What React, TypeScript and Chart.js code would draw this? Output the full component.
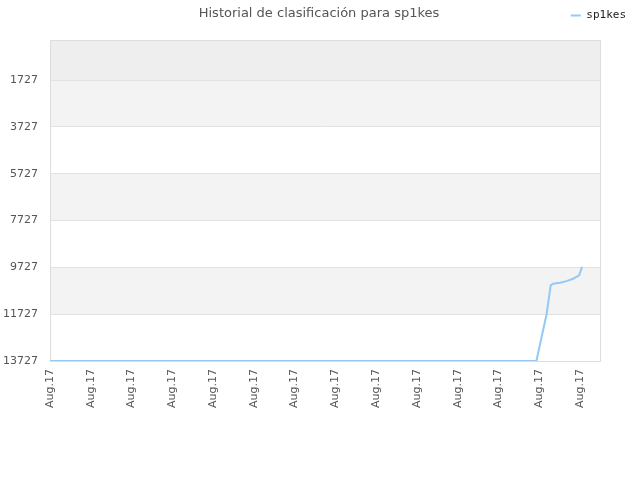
import React, { useEffect, useRef } from "react";
import { Chart, registerables } from "chart.js";

Chart.register(...registerables);

const titleText = "Historial de clasificación para sp1kes";
const seriesName = "sp1kes";
const dayIndex = [0, 119.3, 121.8, 122.8, 123.4, 125.1, 126.7, 128.3, 129.8, 130.5];
const ranks = [13727, 13727, 11727, 10498, 10426, 10383, 10314, 10211, 10070, 9700];
const xTickValues = [0, 10, 20, 30, 40, 50, 60, 70, 80, 90, 100, 110, 120, 130];
const xTickLabels = xTickValues.map(() => "Aug.17");
const yTickValues = [1727, 3727, 5727, 7727, 9727, 11727, 13727];

const lineColor = "rgba(150,200,245,1)";

const bandsPlugin = {
  id: "bands",
  beforeDraw(chart: any) {
    const { ctx, chartArea } = chart;
    const y = chart.scales.y;
    ctx.save();
    const yTop = chartArea.top;
    const yFirst = y.getPixelForValue(yTickValues[0]);
    ctx.fillStyle = "#eeeeee";
    ctx.fillRect(chartArea.left, yTop, chartArea.right - chartArea.left, yFirst - yTop);
    for (let i = 0; i < yTickValues.length - 1; i++) {
      const a = y.getPixelForValue(yTickValues[i]);
      const b = y.getPixelForValue(yTickValues[i + 1]);
      ctx.fillStyle = i % 2 === 0 ? "#f3f3f3" : "#ffffff";
      ctx.fillRect(chartArea.left, a, chartArea.right - chartArea.left, b - a);
    }
    ctx.restore();
  },
};

const titlePlugin = {
  id: "customTitle",
  afterDraw(chart: any) {
    const { ctx } = chart;
    ctx.save();
    ctx.font = "13px 'DejaVu Sans'";
    ctx.fillStyle = "#555555";
    ctx.textAlign = "center";
    ctx.textBaseline = "middle";
    ctx.fillText(titleText, 319, 13.5);
    ctx.restore();
  },
};

export default function App() {
  const ref = useRef<HTMLCanvasElement | null>(null);
  useEffect(() => {
    if (!ref.current) return;
    const chart = new Chart(ref.current, {
      type: "line",
      data: {
        datasets: [
          {
            label: seriesName,
            data: dayIndex.map((d, i) => ({ x: d, y: ranks[i] })),
            borderColor: lineColor,
            backgroundColor: lineColor,
            borderWidth: 2,
            pointRadius: 0,
            tension: 0,
            fill: false,
          },
        ],
      },
      options: {
        responsive: false,
        animation: false,
        layout: { padding: { left: 0, right: 4, top: 0, bottom: 64 } },
        plugins: {
          title: { display: false },
          tooltip: { enabled: false },
          legend: {
            display: true,
            position: "top",
            align: "end",
            labels: {
              usePointStyle: true,
              pointStyle: "line",
              pointStyleWidth: 10,
              boxHeight: 2,
              color: "#222222",
              font: { family: "'DejaVu Sans Mono'", size: 11 },
              padding: 10,
            },
          },
        },
        scales: {
          x: {
            type: "linear",
            min: 0,
            max: 134.9,
            afterBuildTicks: (scale: any) => {
              scale.ticks = xTickValues.map((v) => ({ value: v }));
            },
            ticks: {
              autoSkip: false,
              maxRotation: 90,
              minRotation: 90,
              color: "#555555",
              font: { family: "'DejaVu Sans'", size: 11 },
              padding: 8,
              callback: (_v: any, i: number) => xTickLabels[i],
            },
            grid: { display: false, drawTicks: false },
            border: { display: true, color: "#dddddd" },
          },
          xTop: {
            type: "linear",
            position: "top",
            display: true,
            ticks: { display: false },
            grid: { display: false, drawTicks: false },
            border: { display: true, color: "#dddddd" },
            afterFit: (scale: any) => {
              scale.height = 9;
            },
          },
          y: {
            type: "linear",
            reverse: true,
            min: 13,
            max: 13727,
            afterBuildTicks: (scale: any) => {
              scale.ticks = yTickValues.map((v) => ({ value: v }));
            },
            afterFit: (scale: any) => {
              scale.width = 50;
            },
            ticks: {
              color: "#555555",
              font: { family: "'DejaVu Sans'", size: 11 },
              padding: 12,
              callback: (v: any) => String(v),
            },
            grid: { display: true, color: "#e2e2e2", drawTicks: false },
            border: { display: true, color: "#dddddd" },
          },
          y2: {
            type: "linear",
            position: "right",
            display: true,
            ticks: { display: false },
            grid: { display: false, drawTicks: false },
            border: { display: true, color: "#dddddd" },
            afterFit: (scale: any) => {
              scale.width = 36;
            },
          },
        },
      },
      plugins: [bandsPlugin, titlePlugin],
    } as any);
    return () => chart.destroy();
  }, []);
  return (
    <div style={{ position: "absolute", left: 0, top: 0, width: 640, height: 480, background: "#fff" }}>
      <canvas ref={ref} width={640} height={480} />
    </div>
  );
}
